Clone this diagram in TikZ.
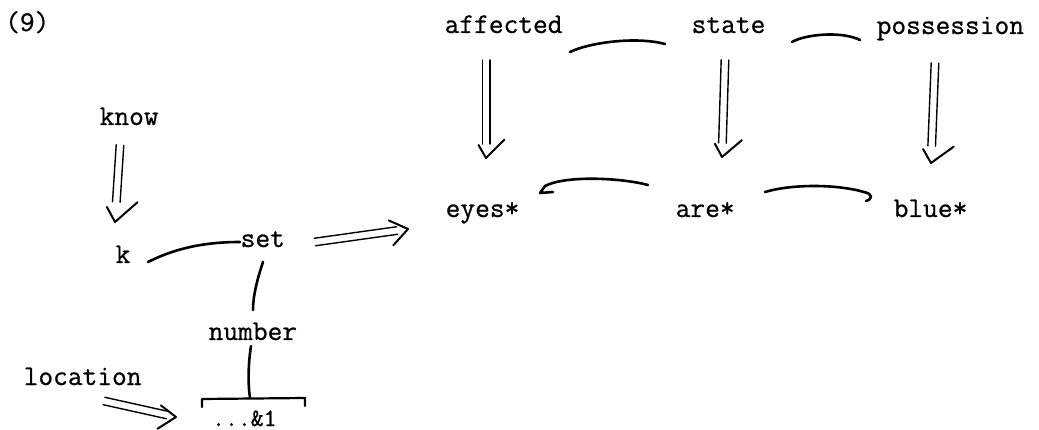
\documentclass[tikz,border=0pt]{standalone}
\usepackage{fontspec}
\setmonofont{Latin Modern Mono}[FakeBold=0.7]
\usetikzlibrary{calc}
\tikzset{
  lbl/.style={font=\ttfamily\fontsize{28.6}{34}\selectfont, inner sep=0pt, anchor=base west},
  arcline/.style={line width=2.6pt, line cap=round, line join=round},
  dbl/.style={line width=1.4pt, line cap=round},
  vtip/.style={line width=2pt, line cap=round, line join=round},
}
% #1 start, #2 tip, #3 arm A length, #4 arm A angle, #5 arm B length, #6 arm B angle, #7 gap before tip
\newcommand\dbarrow[7]{%
  \coordinate (dbE) at ($(#2)!#7!(#1)$);
  \draw[dbl] ($(#1)!3.8pt!90:(#2)$) -- ($(dbE)!3.8pt!90:(#2)$);
  \draw[dbl] ($(#1)!3.8pt!-90:(#2)$) -- ($(dbE)!3.8pt!-90:(#2)$);
  \draw[vtip] ($(#2)!#3!#4:(#1)$) -- (#2) -- ($(#2)!#5!-#6:(#1)$);
}
\begin{document}
\begin{tikzpicture}[x=1pt,y=-1pt]
\useasboundingbox (0,0) rectangle (1039,430);

% text nodes
\node[lbl] (n9)     at (5,31)      {(9)};
\node[lbl] (aff)    at (444.5,33)  {affected};
\node[lbl] (state)  at (691.5,33)  {state};
\node[lbl] (poss)   at (876.5,34)  {possession};
\node[lbl] (know)   at (99.5,125)  {know};
\node[lbl] (k)      at (115.5,263) {k};
\node[lbl] (set)    at (240.5,247) {set};
\node[lbl] (eyes)   at (445.5,217) {eyes*};
\node[lbl] (are)    at (675.5,217) {are*};
\node[lbl] (blue)   at (893.5,217) {blue*};
\node[lbl] (number) at (208.5,340) {number};
\node[lbl] (loc)    at (23.5,385)  {location};
\node[lbl, font=\ttfamily\fontsize{25}{30}\selectfont] (amp) at (212,426) {...\&1};

% double arrows
\coordinate (affS) at (486,60);  \coordinate (affT) at (486,158);
\coordinate (stS)  at (725,60);  \coordinate (stT)  at (722,157);
\coordinate (poS)  at (935,63);  \coordinate (poT)  at (931,163);
\coordinate (knS)  at (120,145); \coordinate (knT)  at (115,222);
\coordinate (seS)  at (315,242); \coordinate (seT)  at (408,229);
\coordinate (loS)  at (104,401); \coordinate (loT)  at (176,417);
\dbarrow{affS}{affT}{15pt}{30}{26pt}{45}{14pt}
\dbarrow{stS}{stT}{15pt}{30}{26pt}{48}{14pt}
\dbarrow{poS}{poT}{16pt}{32}{28pt}{52}{17pt}
\dbarrow{knS}{knT}{17pt}{32}{30pt}{45}{20pt}
\dbarrow{seS}{seT}{22pt}{40}{21pt}{32}{11pt}
\dbarrow{loS}{loT}{22pt}{45}{19pt}{25}{9pt}

% arcs between nodes
\coordinate (a1s) at (570,52);  \coordinate (a1e) at (665,44);
\coordinate (a2s) at (792,42);  \coordinate (a2e) at (860,40);
\coordinate (a3s) at (648,185); \coordinate (a3e) at (540,193);
\coordinate (a4s) at (765,192); \coordinate (a4e) at (866,201);
\coordinate (a5s) at (148,262); \coordinate (a5e) at (240,242);
\coordinate (a6s) at (263,262); \coordinate (a6e) at (253,310);
\coordinate (a7s) at (251,346); \coordinate (a7e) at (250,398);

\draw[arcline] (a1s) .. controls (588,43) and (635,36) .. (a1e);
\draw[arcline] (a2s) .. controls (806,34) and (842,31) .. (a2e);
\draw[arcline] (a3s) .. controls (622,178) and (566,175) .. (545,186) -- (a3e) -- (553,192);
\draw[arcline] (a4s) .. controls (792,184) and (836,184) .. (864,192)
               .. controls (873,194) and (873,199) .. (a4e);
\draw[arcline] (a5s) .. controls (172,250) and (200,242) .. (a5e);
\draw[arcline] (a6s) .. controls (257,280) and (253,296) .. (a6e);
\draw[arcline] (a7s) .. controls (248,365) and (248,385) .. (a7e);

% bracket
\coordinate (brL) at (202,407); \coordinate (brR) at (305,406);
\draw[arcline, line width=2.2pt] (brL) -- (202,399) -- (305,398) -- (brR);
\end{tikzpicture}
\end{document}
